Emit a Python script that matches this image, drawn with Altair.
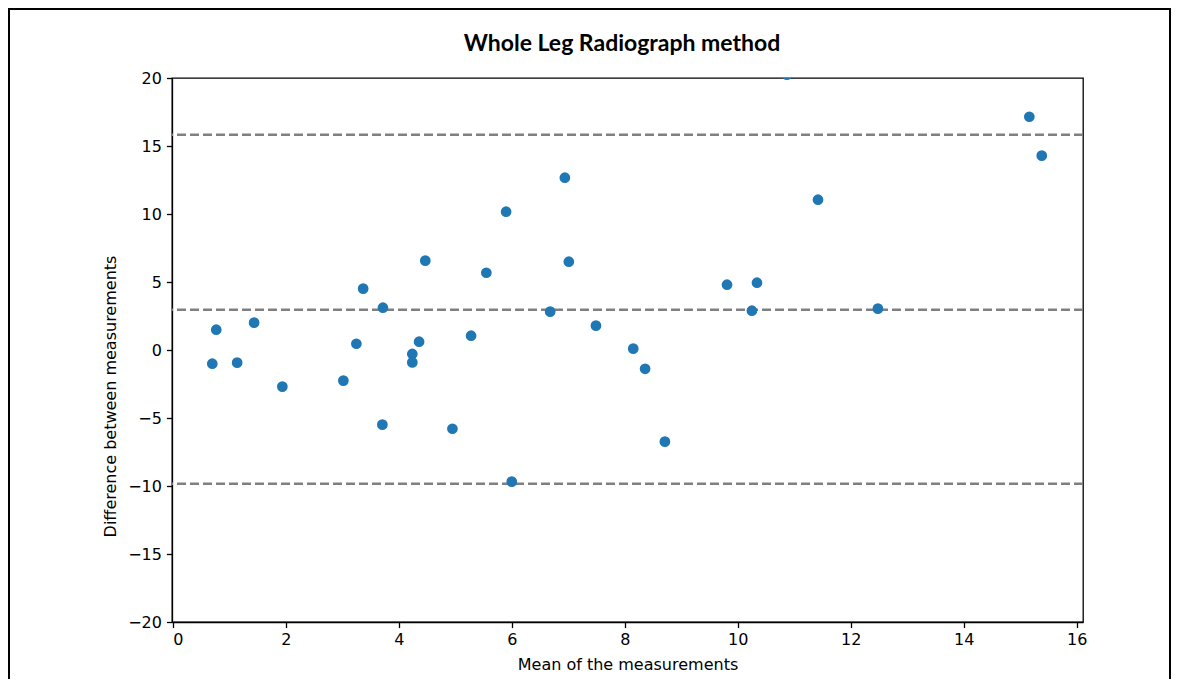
import altair as alt
import pandas as pd

# Bland-Altman data
mean_vals = [0.70, 0.77, 1.14, 1.44, 1.94, 3.02, 3.25, 3.37, 3.71, 3.72,
             4.24, 4.24, 4.36, 4.47, 4.95, 5.28, 5.55, 5.90, 6.00, 6.68,
             6.94, 7.01, 7.49, 8.15, 8.36, 8.71, 9.81, 10.25, 10.34, 10.87,
             11.42, 12.48, 15.16, 15.38]
diff_vals = [-1.01, 1.49, -0.93, 2.01, -2.69, -2.25, 0.46, 4.51, -5.49, 3.11,
             -0.29, -0.91, 0.61, 6.57, -5.79, 1.05, 5.68, 10.17, -9.68, 2.82,
             12.67, 6.49, 1.79, 0.10, -1.38, -6.74, 4.80, 2.89, 4.95, 20.24,
             11.05, 3.04, 17.15, 14.29]
limit_vals = [15.83, 2.96, -9.83]   # upper LoA, mean difference, lower LoA

x_ticks = [0, 2, 4, 6, 8, 10, 12, 14, 16]
y_ticks = [-20, -15, -10, -5, 0, 5, 10, 15, 20]
title_text = ["Whole Leg Radiograph method"]

points = pd.DataFrame({"mean": mean_vals, "diff": diff_vals})
limits = pd.DataFrame({"level": limit_vals})

W, H = 911, 544

x_scale = alt.Scale(domain=[-0.013, 16.11], nice=False, zero=False)
y_scale = alt.Scale(domain=[-20, 20], nice=False, zero=False)

x_axis = alt.Axis(values=x_ticks, title="Mean of the measurements", grid=False,
                  tickSize=5.6, tickWidth=1.3, tickColor="black",
                  domainColor="black", domainWidth=1.3,
                  labelFont="DejaVu Sans", labelFontSize=16, labelColor="black",
                  labelPadding=4, titleFont="DejaVu Sans", titleFontSize=16,
                  titleFontWeight="normal", titleColor="black",
                  titleBaseline="alphabetic", titleY=47)
y_axis = alt.Axis(values=y_ticks, title="Difference between measurements", grid=False,
                  tickSize=5.6, tickWidth=1.3, tickColor="black",
                  domainColor="black", domainWidth=1.3,
                  labelFont="DejaVu Sans", labelFontSize=16, labelColor="black",
                  labelPadding=5, titleFont="DejaVu Sans", titleFontSize=16,
                  titleFontWeight="normal", titleColor="black",
                  titleBaseline="alphabetic", titleAngle=-90,
                  titleX=-57, titleY=318, titleAlign="center")

dots = alt.Chart(points).mark_circle(size=115, color="#1f77b4", opacity=1,
                                     clip=True).encode(
    x=alt.X("mean:Q", scale=x_scale, axis=x_axis),
    y=alt.Y("diff:Q", scale=y_scale, axis=y_axis),
)

lines = alt.Chart(limits).mark_rule(color="#808080", strokeWidth=2.4,
                                    strokeDash=[9, 4]).encode(
    y=alt.Y("level:Q", scale=y_scale),
)

title = alt.Chart(pd.DataFrame({"t": title_text})).mark_text(
    font="Lato", fontSize=23, fontWeight="bold", color="black",
    align="center", baseline="alphabetic"
).encode(
    text="t:N", x=alt.value(450), y=alt.value(-27),
)

frame = alt.Chart(pd.DataFrame({"f": [0]})).mark_rect(
    fillOpacity=0, stroke="black", strokeWidth=2
).encode(
    x=alt.value(-163), x2=alt.value(998),
    y=alt.value(-69), y2=alt.value(650),
)

chart = alt.layer(lines, dots, title, frame).properties(
    width=W, height=H,
    background="white",
    autosize=alt.AutoSizeParams(type="none"),
    padding={"left": 164, "top": 70, "right": 88, "bottom": 57},
).configure_view(stroke="black", strokeWidth=1.3)

chart.save("out.html", embed_options={"renderer": "svg", "actions": False})
